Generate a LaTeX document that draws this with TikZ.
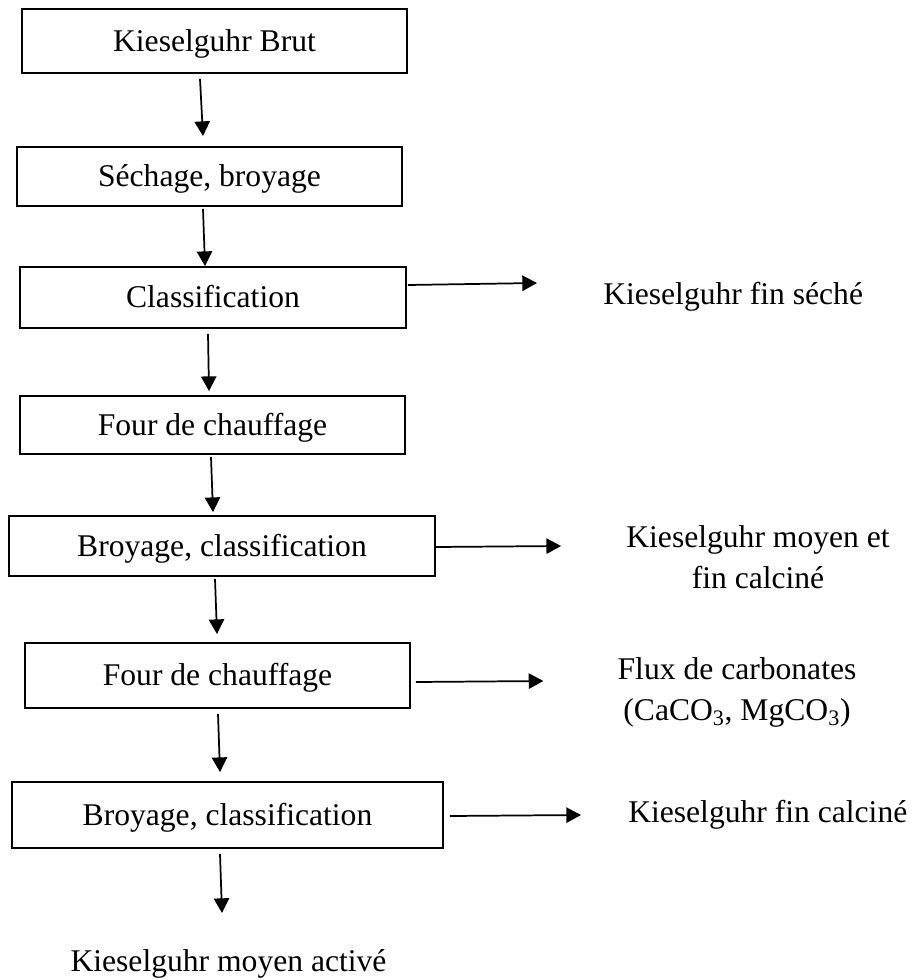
\documentclass[tikz,border=0pt]{standalone}
\usepackage{fontspec}
\setmainfont{Liberation Serif}
\usetikzlibrary{arrows.meta}
\begin{document}
\begin{tikzpicture}[x=0.75pt,y=-0.75pt,
  box/.style={draw, line width=1.4pt, inner sep=0pt, text height=15.7pt, text depth=0pt,
              font=\fontsize{23.7pt}{28pt}\selectfont},
  lbl/.style={inner sep=0pt, align=center, font=\fontsize{23.7pt}{30.75pt}\selectfont},
  arr/.style={line width=1.3pt, -{Triangle[length=11pt,width=11.5pt]}}]
\useasboundingbox (0,0) rectangle (914,980);

% process boxes
\node[box, minimum width=288.75pt, minimum height=48pt]    (b1) at (214.5,41)    {Kieselguhr Brut};
\node[box, minimum width=288.75pt, minimum height=44.25pt] (b2) at (209.5,176.5) {Séchage, broyage};
\node[box, minimum width=289.5pt,  minimum height=45.75pt] (b3) at (213,297.5)   {Classification};
\node[box, minimum width=288.75pt, minimum height=43.5pt]  (b4) at (212.5,425)   {Four de chauffage};
\node[box, minimum width=319.5pt,  minimum height=45pt]    (b5) at (222,546)     {Broyage, classification};
\node[box, minimum width=288.75pt, minimum height=48.75pt] (b6) at (217.5,675.5) {Four de chauffage};
\node[box, minimum width=323.25pt, minimum height=49.5pt]  (b7) at (227.5,815)   {Broyage, classification};

% side products
\node[lbl, anchor=base west] (t1) at (603,304) {Kieselguhr fin séché};
\node[lbl] (t2) at (758,557) {Kieselguhr moyen et\\fin calciné};
\node[lbl] (t3) at (737,692) {Flux de carbonates\\(CaCO\textsubscript{3}, MgCO\textsubscript{3})};
\node[lbl, anchor=base west] (t4) at (628,822) {Kieselguhr fin calciné};
\node[lbl, anchor=base] (t5) at (228.5,971) {Kieselguhr moyen activé};
\coordinate (e7) at (222,913);

% main flow
\draw[arr] ([shift={(-14.5,5)}]b1.south) -- ([shift={(-6.5,-10)}]b2.north);
\draw[arr] ([shift={(-6.5,2)}]b2.south) -- ([shift={(-8,0)}]b3.north);
\draw[arr] ([shift={(-5,5)}]b3.south) -- ([shift={(-3.5,-4)}]b4.north);
\draw[arr] ([shift={(-1.5,2)}]b4.south) -- ([shift={(-9,-3)}]b5.north);
\draw[arr] ([shift={(-7,2)}]b5.south) -- ([shift={(-0.5,-8)}]b6.north);
\draw[arr] ([shift={(0.5,5)}]b6.south) -- ([shift={(-7.5,-9)}]b7.north);
\draw[arr] ([shift={(-7.5,5)}]b7.south) -- (e7);

% side outputs
\draw[arr] ([shift={(1,-12.5)}]b3.east) -- ([shift={(-66,-21)}]t1.base west);
\draw[arr] ([shift={(0,1)}]b5.east) -- ([shift={(-65,-11)}]t2.west);
\draw[arr] ([shift={(5,6.5)}]b6.east) -- ([shift={(-74,-11)}]t3.west);
\draw[arr] ([shift={(6,1)}]b7.east) -- ([shift={(-47,-7)}]t4.base west);
\end{tikzpicture}
\end{document}
